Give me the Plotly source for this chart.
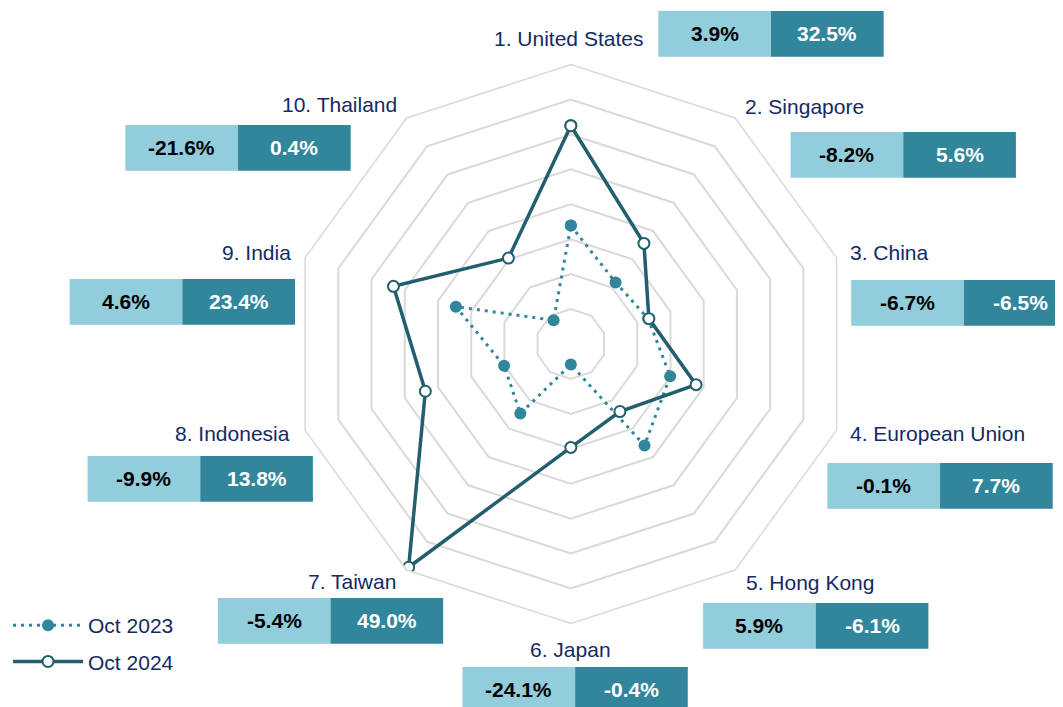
import plotly.graph_objects as go

# data
countries = [
    "1. United States", "2. Singapore", "3. China", "4. European Union",
    "5. Hong Kong", "6. Japan", "7. Taiwan", "8. Indonesia", "9. India",
    "10. Thailand",
]
oct_2023 = [3.9, -8.2, -6.7, -0.1, 5.9, -24.1, -5.4, -9.9, 4.6, -21.6]
oct_2024 = [32.5, 5.6, -6.5, 7.7, -6.1, -0.4, 49.0, 13.8, 23.4, 0.4]

W, H = 1063, 707
OFF = 8  # page body margin around the plot div
LIGHT = "#92cddc"
DARK = "#31869b"
LINE24 = "#215e6e"
NAVY = "#132a64"
GRID = "#d9d9d9"
FONT = "Liberation Sans, Arial, sans-serif"

# label / box placement in pixels: (label x, label y, anchor, box left, box top)
placement = [
    (643, 38, "right", 656, 11),
    (741, 106, "left", 789, 132),
    (847, 253, "left", 850, 280),
    (847, 433, "left", 826, 463),
    (742, 582, "left", 701, 603),
    (568, 649, "center", 459, 667),
    (394, 581, "right", 213, 598),
    (288, 433, "right", 82, 456),
    (289, 253, "right", 64, 279),
    (395, 105, "right", 120, 125),
]
BOX_W, BOX_H = 113.3, 45.7


def px(x):
    return (x - OFF) / W


def py(y):
    return 1 - (y - OFF) / H


def fmt(v):
    return f"{v:.1f}%"


fig = go.Figure()

fig.add_trace(go.Scatterpolar(
    r=oct_2023 + oct_2023[:1],
    theta=countries + countries[:1],
    mode="lines+markers",
    name="Oct 2023",
    legendgroup="a",
    cliponaxis=True,
    line=dict(color=DARK, width=3, dash="3px,5px"),
    marker=dict(symbol="circle", size=12, color=DARK),
))
fig.add_trace(go.Scatterpolar(
    r=oct_2024 + oct_2024[:1],
    theta=countries + countries[:1],
    mode="lines+markers",
    name="Oct 2024",
    legendgroup="b",
    cliponaxis=True,
    line=dict(color=LINE24, width=3.5),
    marker=dict(symbol="circle", size=11, color="white",
                line=dict(color=LINE24, width=2)),
))

shapes = []
annotations = []
for name, v23, v24, (lx, ly, anchor, bx, by) in zip(
        countries, oct_2023, oct_2024, placement):
    annotations.append(dict(
        x=px(lx), y=py(ly), xref="paper", yref="paper", text=name,
        showarrow=False, xanchor=anchor, yanchor="middle",
        font=dict(family=FONT, size=21, color=NAVY),
    ))
    for i, (val, fill, tc) in enumerate([(v23, LIGHT, "black"), (v24, DARK, "white")]):
        x0 = bx + i * BOX_W
        shapes.append(dict(
            type="rect", xref="paper", yref="paper",
            x0=px(x0), x1=px(x0 + BOX_W), y0=py(by + BOX_H), y1=py(by),
            fillcolor=fill, line=dict(width=0), layer="below",
        ))
        annotations.append(dict(
            x=px(x0 + BOX_W / 2), y=py(by + BOX_H / 2), xref="paper", yref="paper",
            text=f"<b>{fmt(val)}</b>", showarrow=False,
            xanchor="center", yanchor="middle",
            font=dict(family=FONT, size=21, color=tc),
        ))

cx, cy, rad = 568, 344, 281
fig.update_layout(
    width=W, height=H,
    margin=dict(l=0, r=0, t=0, b=0),
    paper_bgcolor="white",
    plot_bgcolor="white",
    font=dict(family=FONT, color=NAVY),
    polar=dict(
        domain=dict(x=[px(cx - rad), px(cx + rad)], y=[py(cy + rad), py(cy - rad)]),
        bgcolor="white",
        gridshape="linear",
        radialaxis=dict(
            range=[-30, 50], dtick=10, showticklabels=False, ticks="",
            showline=False, gridcolor=GRID, gridwidth=1.5,
        ),
        angularaxis=dict(
            rotation=90, direction="clockwise", showgrid=False,
            showticklabels=False, ticks="", linecolor=GRID, linewidth=1.5,
        ),
    ),
    shapes=shapes,
    annotations=annotations,
    showlegend=True,
    legend=dict(
        x=px(2), y=py(605), xanchor="left", yanchor="top",
        font=dict(family=FONT, size=21, color=NAVY),
        bgcolor="rgba(0,0,0,0)", itemwidth=70,
        traceorder="grouped", tracegroupgap=6,
    ),
)

fig.write_html("out.html")
